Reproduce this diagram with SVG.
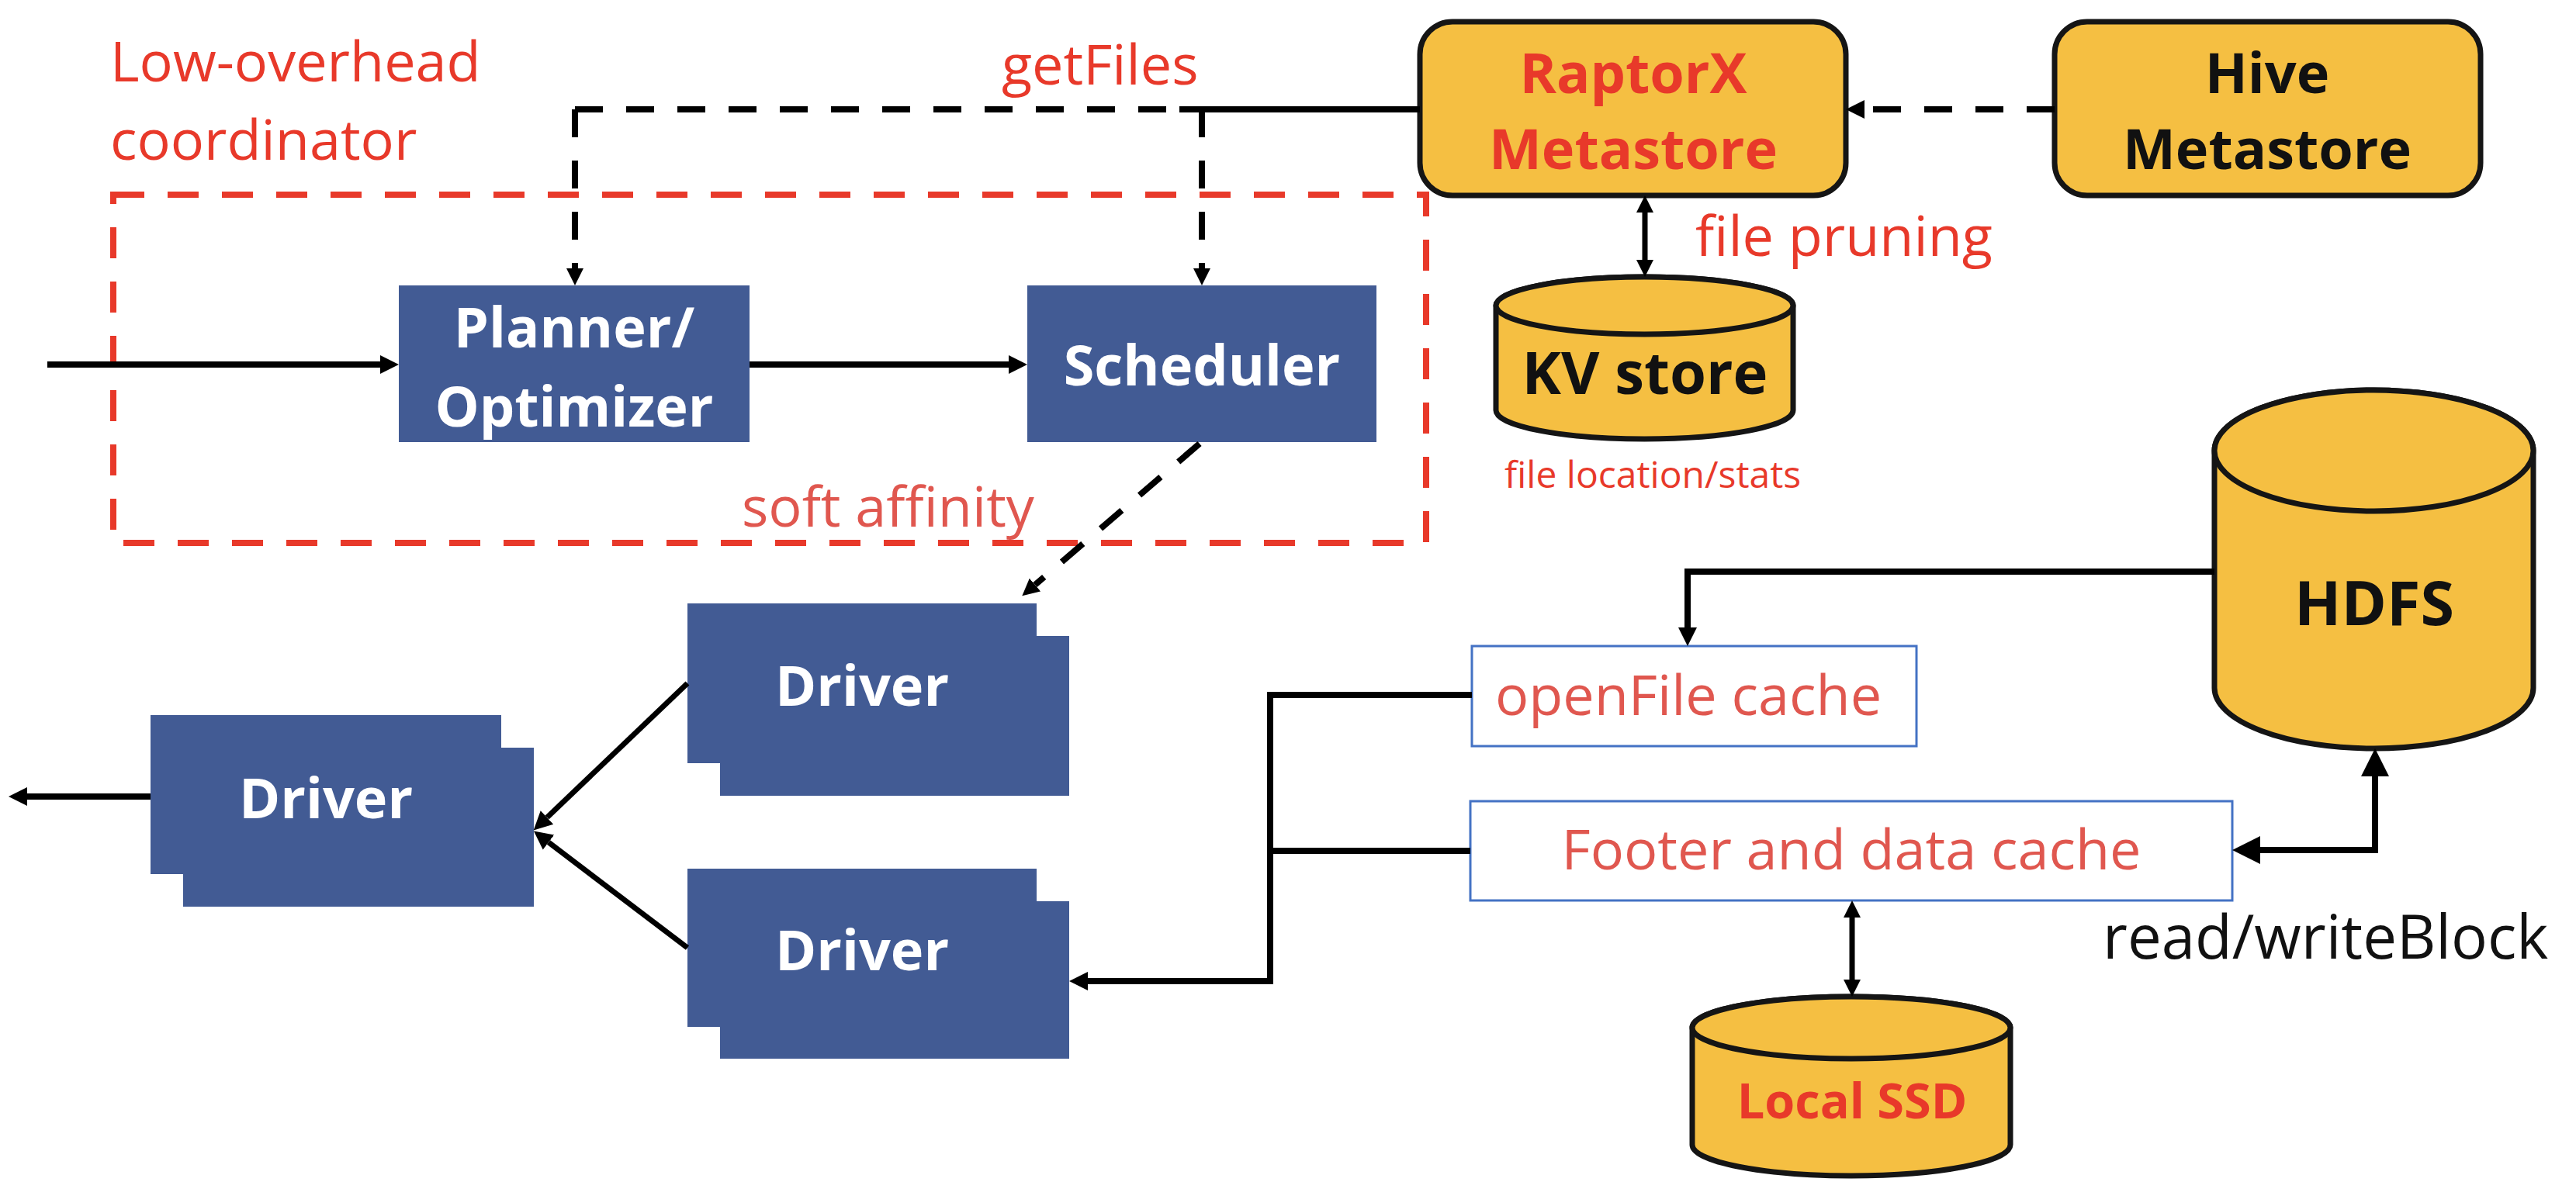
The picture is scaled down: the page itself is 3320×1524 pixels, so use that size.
<svg xmlns="http://www.w3.org/2000/svg" width="3320" height="1524" viewBox="0 0 3320 1524">
<style>
text{font-family:"Open Sans","Noto Sans","DejaVu Sans",sans-serif}
.lbl{font-size:72px;fill:#E8392A}
.sal{fill:#E0574F}
.bw{font-size:72px;font-weight:bold;fill:#ffffff}
.bk{font-size:72px;font-weight:bold;fill:#111111}
.br{font-size:72px;font-weight:bold;fill:#E8392A}
.blue{fill:#425B94}
.yel{fill:#F5BF42;stroke:#151515;stroke-width:7}
.cache{fill:#ffffff;stroke:#4472C4;stroke-width:3}
.ln{fill:none;stroke:#000;stroke-width:8}
.thin{fill:none;stroke:#000;stroke-width:7}
.dash{fill:none;stroke:#000;stroke-width:8;stroke-dasharray:36 30}
</style>
<defs>
<marker id="ah" viewBox="0 0 10 10" refX="0" refY="5" markerUnits="userSpaceOnUse" markerWidth="24" markerHeight="26" orient="auto-start-reverse"><path d="M0,0 L10,5 L0,10 z" fill="#000"/></marker>
<marker id="ahs" viewBox="0 0 10 10" refX="0" refY="5" markerUnits="userSpaceOnUse" markerWidth="22" markerHeight="22" orient="auto-start-reverse"><path d="M0,0 L10,5 L0,10 z" fill="#000"/></marker>
<marker id="ahb" viewBox="0 0 10 10" refX="0" refY="5" markerUnits="userSpaceOnUse" markerWidth="36" markerHeight="40" orient="auto-start-reverse"><path d="M0,0 L10,5 L0,10 z" fill="#000"/></marker>
</defs>

<text class="lbl" x="142" y="105">Low-overhead</text>
<text class="lbl" x="142" y="206">coordinator</text>
<rect x="146" y="251" width="1692" height="449" fill="none" stroke="#E8392A" stroke-width="8" stroke-dasharray="40 30"/>
<text class="lbl" x="1291" y="109">getFiles</text>
<text class="lbl sal" x="956" y="679">soft affinity</text>
<text class="lbl" x="2185" y="330">file pruning</text>
<text class="lbl" x="1939" y="629" style="font-size:48px">file location/stats</text>
<text x="2710" y="1236" style="font-size:78px;fill:#111">read/writeBlock</text>

<g id="planner">
<rect class="blue" x="514" y="368" width="452" height="202"/>
<text class="bw" x="740" y="448" text-anchor="middle">Planner/</text>
<text class="bw" x="740" y="550" text-anchor="middle">Optimizer</text>
</g>
<g id="scheduler">
<rect class="blue" x="1324" y="368" width="450" height="202"/>
<text class="bw" x="1549" y="497" text-anchor="middle">Scheduler</text>
</g>
<g id="raptorx">
<rect class="yel" x="1830" y="28" width="549" height="224" rx="42"/>
<text class="br" x="2105" y="120" text-anchor="middle">RaptorX</text>
<text class="br" x="2105" y="218" text-anchor="middle">Metastore</text>
</g>
<g id="hive">
<rect class="yel" x="2648" y="28" width="549" height="224" rx="42"/>
<text class="bk" x="2922" y="120" text-anchor="middle">Hive</text>
<text class="bk" x="2922" y="218" text-anchor="middle">Metastore</text>
</g>
<g id="kvstore">
<path class="yel" d="M1928,394 A191.5,37 0 0 1 2311,394 V529 A191.5,37 0 0 1 1928,529 Z"/>
<ellipse class="yel" cx="2119.5" cy="394" rx="191.5" ry="37"/>
<text class="bk" x="2120" y="508" text-anchor="middle" style="font-size:76px">KV store</text>
</g>
<g id="hdfs">
<path class="yel" d="M2854,581 A205.5,78 0 0 1 3265,581 V887 A205.5,78 0 0 1 2854,887 Z"/>
<ellipse class="yel" cx="3059.5" cy="581" rx="205.5" ry="78"/>
<text class="bk" x="3060" y="806" text-anchor="middle" style="font-size:79px">HDFS</text>
</g>
<g id="localssd">
<path class="yel" d="M2181,1325 A205,40 0 0 1 2591,1325 V1476 A205,40 0 0 1 2181,1476 Z"/>
<ellipse class="yel" cx="2386" cy="1325" rx="205" ry="40"/>
<text class="br sal" x="2387" y="1442" text-anchor="middle" style="font-size:63px">Local SSD</text>
</g>
<g id="openfile">
<rect class="cache" x="1897" y="833" width="573" height="129"/>
<text class="lbl sal" x="2176" y="922" text-anchor="middle">openFile cache</text>
</g>
<g id="footer">
<rect class="cache" x="1895" y="1033" width="982" height="128"/>
<text class="lbl sal" x="2386" y="1121" text-anchor="middle">Footer and data cache</text>
</g>
<g id="driver1">
<rect class="blue" x="928" y="820" width="450" height="206"/>
<rect class="blue" x="886" y="778" width="450" height="206"/>
<text class="bw" x="1111" y="910" text-anchor="middle">Driver</text>
</g>
<g id="driver2">
<rect class="blue" x="928" y="1162" width="450" height="203"/>
<rect class="blue" x="886" y="1120" width="450" height="204"/>
<text class="bw" x="1111" y="1251" text-anchor="middle">Driver</text>
</g>
<g id="driver0">
<rect class="blue" x="236" y="964" width="452" height="205"/>
<rect class="blue" x="194" y="922" width="452" height="205"/>
<text class="bw" x="420" y="1055" text-anchor="middle">Driver</text>
</g>

<g id="connectors">
<line class="ln" x1="61" y1="470" x2="490" y2="470" marker-end="url(#ah)"/>
<line class="ln" x1="966" y1="470" x2="1300" y2="470" marker-end="url(#ah)"/>
<line class="dash" x1="741" y1="141" x2="1520" y2="141"/>
<line class="ln" x1="1520" y1="141" x2="1830" y2="141"/>
<line class="dash" x1="741" y1="141" x2="741" y2="346" stroke-width="7" marker-end="url(#ahs)"/>
<line class="dash" x1="1549" y1="141" x2="1549" y2="346" stroke-width="7" marker-end="url(#ahs)"/>
<line class="dash" x1="2648" y1="141" x2="2403" y2="141" marker-end="url(#ah)"/>
<line class="thin" x1="2120" y1="274" x2="2120" y2="335" marker-start="url(#ahs)" marker-end="url(#ahs)"/>
<line class="dash" x1="1546" y1="572" x2="1334" y2="754" stroke-width="7" marker-end="url(#ahs)"/>
<line class="thin" x1="886" y1="881" x2="705" y2="1054" marker-end="url(#ah)"/>
<line class="thin" x1="886" y1="1222" x2="707" y2="1086" marker-end="url(#ah)"/>
<line class="ln" x1="194" y1="1027" x2="35" y2="1027" marker-end="url(#ah)"/>
<path class="ln" d="M2854,737 H2175 V809" marker-end="url(#ah)"/>
<path class="ln" d="M1897,896 H1637 V1265 H1402" marker-end="url(#ah)"/>
<path class="ln" d="M1895,1097 H1637"/>
<path class="ln" d="M3061,1001 V1096 H2913" marker-start="url(#ahb)" marker-end="url(#ahb)"/>
<line class="thin" x1="2387" y1="1183" x2="2387" y2="1263" marker-start="url(#ahs)" marker-end="url(#ahs)"/>
</g>
</svg>
